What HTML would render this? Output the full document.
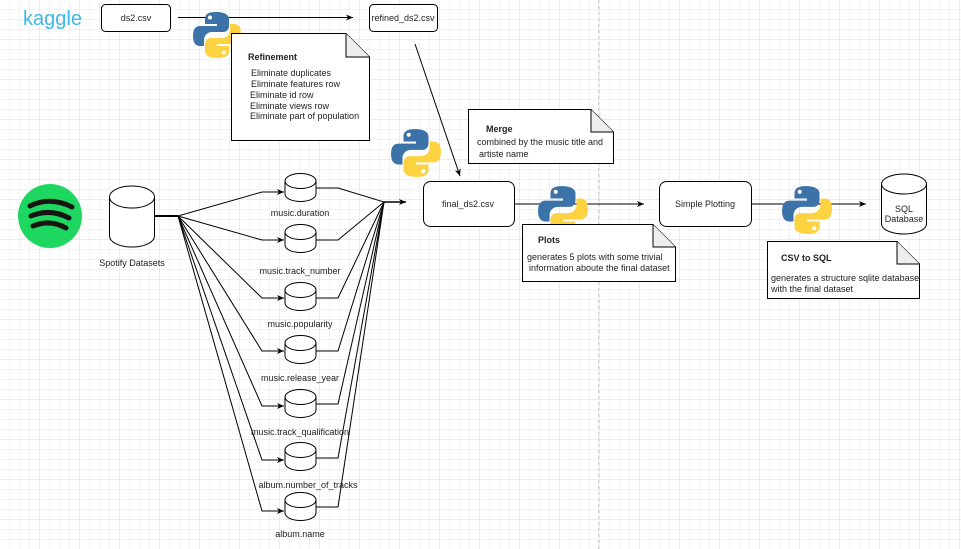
<!DOCTYPE html>
<html><head><meta charset="utf-8"><style>
html,body{margin:0;padding:0;background:#fff}
svg{display:block}
text{font-family:"Liberation Sans",sans-serif;font-size:9px;fill:#222}
.b{font-weight:bold}
</style></head><body>
<svg width="961" height="549" viewBox="0 0 961 549" xmlns="http://www.w3.org/2000/svg">
<defs>
<pattern id="g" width="10" height="10" patternUnits="userSpaceOnUse"><path d="M10 0V10H0" fill="none" stroke="#e8e8e8" stroke-width="1"/></pattern>
<pattern id="G" width="40" height="40" patternUnits="userSpaceOnUse"><path d="M40 0V40H0" fill="none" stroke="#d8d8d8" stroke-width="1"/></pattern>
<marker id="a" markerWidth="8" markerHeight="8" refX="7" refY="4" orient="auto" markerUnits="userSpaceOnUse"><path d="M0,1 L7,4 L0,7 L2,4z" fill="#000"/></marker>
<symbol id="py" viewBox="0 0 50 50">
<path d="M24,2 C14,2 13,6 13,9 V14 H25 V16 H8 C3,16 1,20 1,26 C1,32 3,36 8,36 H12 V30 C12,25 16,22 20,22 H31 C35,22 37,19 37,16 V9 C37,5 33,2 24,2Z" fill="#3b73a8"/>
<path d="M26,48 C36,48 37,44 37,41 V36 H25 V34 H42 C47,34 49,30 49,24 C49,18 47,14 42,14 H38 V20 C38,25 34,28 30,28 H19 C15,28 13,31 13,34 V41 C13,45 17,48 26,48Z" fill="#fdd240"/>
<circle cx="18" cy="7.5" r="2" fill="#fff"/><circle cx="32" cy="42.5" r="2" fill="#fff"/>
</symbol>
<symbol id="cy" viewBox="0 0 32 30" overflow="visible">
<path d="M0.5,8 A15.5,7.5 0 0 1 31.5,8 V21 A15.5,7.5 0 0 1 0.5,21 Z" fill="#fff" stroke="#000" stroke-width="1"/>
<path d="M0.5,8 A15.5,7.5 0 0 0 31.5,8" fill="none" stroke="#000"/>
</symbol>
</defs>
<rect width="961" height="549" fill="url(#g)"/>
<rect width="961" height="549" fill="url(#G)"/>
<line x1="598.5" y1="0" x2="598.5" y2="549" stroke="#ccc" stroke-dasharray="3,3"/>

<text x="23" y="25" style="font-size:20px;fill:#3fb8e8;font-family:'Liberation Sans',sans-serif">kaggle</text>
<rect x="101.5" y="4.5" width="69" height="27" rx="4" fill="#fff" stroke="#000"/>
<text x="136" y="21" text-anchor="middle">ds2.csv</text>
<line x1="178" y1="17.5" x2="353" y2="17.5" stroke="#000" marker-end="url(#a)"/>
<rect x="369.5" y="4.5" width="68" height="27" rx="4" fill="#fff" stroke="#000"/>
<text x="403" y="21" text-anchor="middle">refined_ds2.csv</text>
<use href="#py" x="192" y="10" width="50" height="50"/>
<path d="M231.5,33.5 H346 L369.5,57 V140.5 H231.5Z" fill="#fff" stroke="#000"/>
<path d="M346,33.5 V57 H369.5" fill="#eee" stroke="#000"/>
<text x="248" y="60" class="b">Refinement</text>
<text x="251" y="76">Eliminate duplicates</text>
<text x="251" y="87">Eliminate features row</text>
<text x="250" y="98">Eliminate id row</text>
<text x="250" y="109">Eliminate views row</text>
<text x="250" y="119">Eliminate part of population</text>
<line x1="415" y1="44" x2="460" y2="176" stroke="#000" marker-end="url(#a)"/>
<use href="#py" x="390" y="127" width="52" height="52"/>
<path d="M468.5,109.5 H591 L613.5,132 V163.5 H468.5Z" fill="#fff" stroke="#000"/>
<path d="M591,109.5 V132 H613.5" fill="#eee" stroke="#000"/>
<text x="486" y="132" class="b">Merge</text>
<text x="477" y="145">combined by the music title and</text>
<text x="479" y="157">artiste name</text>

<circle cx="50" cy="216" r="32" fill="#1ed760"/>
<path d="M30,206 Q50,196 72,207 M31,216 Q50,208 69,218 M33,226 Q50,219 66,228" stroke="#191414" stroke-width="5" fill="none" stroke-linecap="round"/>
<path d="M109.5,197 A22.5,11 0 0 1 154.5,197 V236 A22.5,11 0 0 1 109.5,236Z" fill="#fff" stroke="#000"/>
<path d="M109.5,197 A22.5,11 0 0 0 154.5,197" fill="none" stroke="#000"/>
<text x="132" y="266" text-anchor="middle">Spotify Datasets</text>
<line x1="155" y1="216" x2="178" y2="216" stroke="#000" stroke-width="2"/>

<g stroke="#000" fill="none" stroke-width="1">
<path d="M178,216 L262,192 H284" marker-end="url(#a)"/>
<path d="M178,216 L262,240 H284" marker-end="url(#a)"/>
<path d="M178,216 L262,298 H284" marker-end="url(#a)"/>
<path d="M178,216 L262,351 H284" marker-end="url(#a)"/>
<path d="M178,216 L262,406 H284" marker-end="url(#a)"/>
<path d="M178,216 L262,460 H284" marker-end="url(#a)"/>
<path d="M178,216 L262,511 H284" marker-end="url(#a)"/>
<path d="M316,188 H338 L384,202"/>
<path d="M316,240 H338 L384,202"/>
<path d="M316,298 H338 L384,202"/>
<path d="M316,351 H338 L384,202"/>
<path d="M316,404 H338 L384,202"/>
<path d="M316,458 H338 L384,202"/>
<path d="M316,507 H338 L384,202"/>
</g>
<line x1="384" y1="202" x2="406" y2="202" stroke="#000" stroke-width="1.5" marker-end="url(#a)"/>
<use href="#cy" x="284.5" y="173" width="32" height="30"/>
<use href="#cy" x="284.5" y="224" width="32" height="30"/>
<use href="#cy" x="284.5" y="282" width="32" height="30"/>
<use href="#cy" x="284.5" y="335" width="32" height="30"/>
<use href="#cy" x="284.5" y="389" width="32" height="30"/>
<use href="#cy" x="284.5" y="442" width="32" height="30"/>
<use href="#cy" x="284.5" y="492" width="32" height="30"/>
<g text-anchor="middle">
<text x="300" y="216">music.duration</text>
<text x="300" y="274">music.track_number</text>
<text x="300" y="327">music.popularity</text>
<text x="300" y="381">music.release_year</text>
<text x="300" y="435">music.track_qualification</text>
<text x="308" y="488">album.number_of_tracks</text>
<text x="300" y="537">album.name</text>
</g>

<rect x="423.5" y="181.5" width="91" height="45" rx="7" fill="#fff" stroke="#000"/>
<text x="468" y="207" text-anchor="middle">final_ds2.csv</text>
<line x1="515" y1="204" x2="644" y2="204" stroke="#000" marker-end="url(#a)"/>
<use href="#py" x="537" y="184" width="52" height="52"/>
<path d="M522.5,224.5 H653 L675.5,247 V281.5 H522.5Z" fill="#fff" stroke="#000"/>
<path d="M653,224.5 V247 H675.5" fill="#eee" stroke="#000"/>
<text x="538" y="243" class="b">Plots</text>
<text x="527" y="260">generates 5 plots with some trivial</text>
<text x="529" y="271">information aboute the final dataset</text>

<rect x="659.5" y="181.5" width="92" height="45" rx="7" fill="#fff" stroke="#000"/>
<text x="705" y="207" text-anchor="middle">Simple Plotting</text>
<line x1="752" y1="204" x2="866" y2="204" stroke="#000" marker-end="url(#a)"/>
<use href="#py" x="781" y="184" width="52" height="52"/>
<path d="M881.5,184 A22.5,10 0 0 1 926.5,184 V224 A22.5,10 0 0 1 881.5,224Z" fill="#fff" stroke="#000"/>
<path d="M881.5,184 A22.5,10 0 0 0 926.5,184" fill="none" stroke="#000"/>
<text x="904" y="212" text-anchor="middle">SQL</text>
<text x="904" y="222" text-anchor="middle">Database</text>
<path d="M767.5,241.5 H897 L919.5,264 V298.5 H767.5Z" fill="#fff" stroke="#000"/>
<path d="M897,241.5 V264 H919.5" fill="#eee" stroke="#000"/>
<text x="781" y="261" class="b">CSV to SQL</text>
<text x="771" y="281">generates a structure sqlite database</text>
<text x="771" y="292">with the final dataset</text>
</svg>
</body></html>
